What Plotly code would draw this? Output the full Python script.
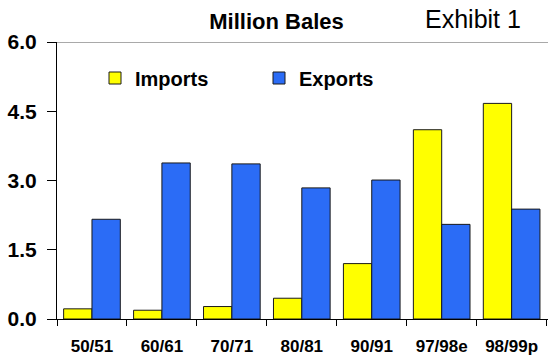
import plotly.graph_objects as go

# Cotton trade, million bales
seasons = ["50/51", "60/61", "70/71", "80/81", "90/91", "97/98e", "98/99p"]
imports = [0.22, 0.19, 0.27, 0.45, 1.20, 4.10, 4.67]
exports = [2.16, 3.38, 3.36, 2.84, 3.01, 2.05, 2.38]

y_ticks = [0.0, 1.5, 3.0, 4.5, 6.0]

FONT = "Liberation Sans, Arial, sans-serif"
YELLOW = "#FFFF00"
BLUE = "#2B6CF6"
OUTLINE = "#1a1a1a"

W, H = 548, 361
ML, MR, MT, MB = 57, 0, 42, 42
PW = W - ML - MR
PH = H - MT - MB

fig = go.Figure()
fig.add_trace(go.Bar(
    name="Imports", x=seasons, y=imports,
    marker=dict(color=YELLOW, line=dict(color=OUTLINE, width=1)),
))
fig.add_trace(go.Bar(
    name="Exports", x=seasons, y=exports,
    marker=dict(color=BLUE, line=dict(color=OUTLINE, width=1)),
))

fig.update_layout(
    width=W, height=H,
    margin=dict(l=ML, r=MR, t=MT, b=MB),
    paper_bgcolor="white", plot_bgcolor="white",
    barmode="group", bargap=0.19, bargroupgap=0,
    font=dict(family=FONT, color="black"),
    title=dict(
        text="Million Bales",
        font=dict(family=FONT, size=22, weight="bold", color="black"),
        x=276.5 / W, xanchor="center", xref="container",
        y=1 - 21 / H, yanchor="middle", yref="container",
    ),
    legend=dict(
        orientation="h",
        x=(95 - ML) / PW, xanchor="left",
        y=1 - 36 / PH, yanchor="middle",
        font=dict(family=FONT, size=20, weight="bold", color="black"),
        bgcolor="rgba(0,0,0,0)",
        entrywidth=119,
        traceorder="normal",
    ),
    showlegend=True,
)

fig.update_xaxes(
    type="category",
    range=[-0.5, 6.52],
    showline=True, linecolor="black", linewidth=1,
    ticks="outside", tickson="boundaries", ticklen=6, tickcolor="black",
    tickfont=dict(family=FONT, size=17, weight="bold", color="black"),
    ticklabelstandoff=12,
    showgrid=False, zeroline=False,
)
fig.update_yaxes(
    range=[0, 6],
    tickvals=y_ticks,
    ticktext=[f"{v:.1f}" for v in y_ticks],
    showline=True, linecolor="black", linewidth=1,
    ticks="outside", ticklen=9, tickcolor="black",
    tickfont=dict(family=FONT, size=21, weight="bold", color="black"),
    ticklabelstandoff=6,
    showgrid=False, zeroline=False,
)

# top border of the plotting area
fig.add_shape(type="line", xref="paper", yref="y",
              x0=0, x1=1, y0=6, y1=6,
              line=dict(color="#555555", width=1))

fig.add_annotation(
    text="Exhibit 1", showarrow=False,
    xref="paper", yref="paper",
    x=(472.5 - ML) / PW, xanchor="center",
    y=1 + 23 / PH, yanchor="middle",
    font=dict(family=FONT, size=25, color="black"),
)

fig.write_html("out.html")
